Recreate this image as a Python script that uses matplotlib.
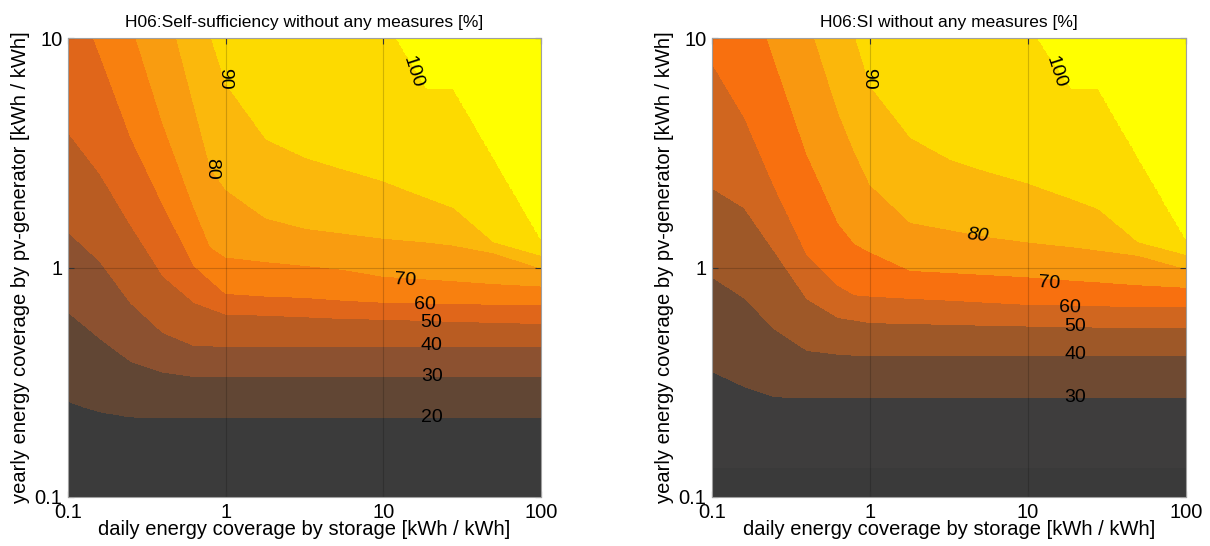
import numpy as np
import matplotlib
matplotlib.use("Agg")
import matplotlib.pyplot as plt
from matplotlib.ticker import FixedLocator, FixedFormatter, NullLocator

plt.rcParams['font.family'] = ['Liberation Sans', 'DejaVu Sans']

# ---------------- data ----------------
# storage axis columns (daily energy coverage by storage, kWh/kWh)
storage = [0.1, 0.16, 0.25, 0.4, 0.63, 0.8, 1, 1.8, 3.2, 5.6, 10, 19, 28, 50, 100]
levels = [20, 30, 40, 50, 60, 70, 80, 90, 100]

# pv-coverage (kWh/kWh) at which each contour level is reached, per storage column
# (values > 10 lie above the plotted range)
ss_level_20 = [0.26, 0.233, 0.222, 0.22, 0.22, 0.22, 0.22, 0.22, 0.22, 0.22, 0.22, 0.22, 0.22, 0.22, 0.22]
ss_level_30 = [0.64, 0.49, 0.39, 0.35, 0.335, 0.335, 0.335, 0.335, 0.335, 0.335, 0.335, 0.335, 0.335, 0.335, 0.335]
ss_level_40 = [1.43, 1.06, 0.70, 0.52, 0.457, 0.455, 0.454, 0.454, 0.454, 0.454, 0.454, 0.454, 0.454, 0.454, 0.454]
ss_level_50 = [3.88, 2.55, 1.53, 0.92, 0.705, 0.663, 0.627, 0.62, 0.61, 0.60, 0.595, 0.588, 0.582, 0.577, 0.57]
ss_level_60 = [19.3, 8.4, 3.69, 1.88, 1.02, 0.88, 0.77, 0.75, 0.74, 0.72, 0.705, 0.70, 0.70, 0.69, 0.69]
ss_level_70 = [85, 31.6, 11.8, 4.23, 1.82, 1.23, 1.11, 1.06, 1.02, 0.98, 0.915, 0.89, 0.875, 0.85, 0.83]
ss_level_80 = [210, 85, 40, 16.9, 5.09, 2.72, 2.19, 1.64, 1.48, 1.41, 1.34, 1.29, 1.25, 1.16, 0.995]
ss_level_90 = [1000, 360, 133, 48, 17.3, 10.3, 6.34, 3.63, 3.01, 2.68, 2.38, 2.01, 1.82, 1.29, 1.13]
ss_level_100 = [3000, 1500, 800, 400, 200, 150, 100, 60, 40, 25, 12.5, 6.03, 6.03, 3.04, 1.34]

si_level_20 = [0.134, 0.134, 0.134, 0.134, 0.134, 0.134, 0.134, 0.134, 0.134, 0.134, 0.134, 0.134, 0.134, 0.134, 0.134]
si_level_30 = [0.352, 0.303, 0.273, 0.272, 0.272, 0.272, 0.272, 0.272, 0.272, 0.272, 0.272, 0.272, 0.272, 0.272, 0.272]
si_level_40 = [0.91, 0.736, 0.538, 0.435, 0.419, 0.415, 0.413, 0.413, 0.413, 0.413, 0.413, 0.413, 0.413, 0.413, 0.413]
si_level_50 = [2.22, 1.82, 1.17, 0.73, 0.605, 0.59, 0.575, 0.57, 0.565, 0.56, 0.556, 0.553, 0.55, 0.548, 0.547]
si_level_60 = [7.76, 4.52, 2.22, 1.13, 0.834, 0.76, 0.75, 0.734, 0.72, 0.705, 0.69, 0.685, 0.68, 0.678, 0.675]
si_level_70 = [51, 20, 7.9, 3.1, 1.56, 1.27, 1.17, 0.97, 0.95, 0.93, 0.91, 0.88, 0.865, 0.84, 0.82]
si_level_80 = [300, 100, 35, 12.6, 4.75, 3.18, 2.30, 1.57, 1.46, 1.36, 1.29, 1.23, 1.19, 1.13, 0.99]
si_level_90 = [1000, 360, 133, 48, 17.3, 10.3, 6.2, 3.69, 2.96, 2.61, 2.33, 1.99, 1.80, 1.29, 1.14]
si_level_100 = [3000, 1500, 800, 400, 200, 150, 100, 60, 40, 25, 11.6, 6.03, 6.03, 3.04, 1.34]

# contour labels
ss_label_values = [20, 30, 40, 50, 60, 70, 80, 90, 100]
ss_label_x = [20.3, 20.3, 20.3, 20.2, 18.4, 13.7, 0.82, 0.98, 15.3]
ss_label_y = [0.222, 0.336, 0.457, 0.575, 0.69, 0.878, 2.68, 6.67, 7.13]
ss_label_rot = [0, 0, 0, 0, -1, -4, -90, -90, -72]

si_label_values = [30, 40, 50, 60, 70, 80, 90, 100]
si_label_x = [20.0, 20.0, 19.8, 18.4, 13.7, 4.8, 0.98, 15.0]
si_label_y = [0.272, 0.418, 0.553, 0.67, 0.85, 1.37, 6.67, 7.13]
si_label_rot = [0, 0, 0, -1, -4, -6, -90, -72]

titles = ["H06:Self-sufficiency without any measures [%]", "H06:SI without any measures [%]"]
xlabel = "daily energy coverage by storage [kWh / kWh]"
ylabel = "yearly energy coverage by pv-generator [kWh / kWh]"

ss_colors = ['#3b3b3b', '#614634', '#8c5130', '#b95c22', '#e0661a',
             '#f8800f', '#f99c10', '#fbb80c', '#fdda00', '#ffff00']
si_colors = ['#3a3a3a', '#3e3d3d', '#6f4a32', '#9e5828', '#d0661f',
             '#f8700f', '#f99810', '#fbb70b', '#fdda00', '#ffff00']


def build_field(table):
    lx = np.log10(storage)
    pos = np.log10(np.array(table, dtype=float))
    fx = np.linspace(-1, 2, 361)
    fy = np.linspace(-1, 1, 481)
    Z = np.empty((fy.size, fx.size))
    for j, x in enumerate(fx):
        p = [np.interp(x, lx, row) for row in pos]
        Z[:, j] = np.interp(fy, p, levels, left=10, right=110)
    return 10 ** fx, 10 ** fy, Z


fig = plt.figure(figsize=(12.1, 5.46), dpi=100)
ax_pos = [[68 / 1210, 49 / 546, 473 / 1210, 459 / 546],
          [712 / 1210, 49 / 546, 474 / 1210, 459 / 546]]

panels = [
    ([ss_level_20, ss_level_30, ss_level_40, ss_level_50, ss_level_60,
      ss_level_70, ss_level_80, ss_level_90, ss_level_100], ss_colors,
     ss_label_values, ss_label_x, ss_label_y, ss_label_rot),
    ([si_level_20, si_level_30, si_level_40, si_level_50, si_level_60,
      si_level_70, si_level_80, si_level_90, si_level_100], si_colors,
     si_label_values, si_label_x, si_label_y, si_label_rot),
]

for i, (table, cols, lv, lxs, lys, lrs) in enumerate(panels):
    ax = fig.add_axes(ax_pos[i])
    X, Y, Z = build_field(table)
    ax.contourf(X, Y, Z, levels=[0] + levels + [120], colors=cols)
    ax.set_xscale('log')
    ax.set_yscale('log')
    ax.set_xlim(0.1, 100)
    ax.set_ylim(0.1, 10)
    ax.xaxis.set_major_locator(FixedLocator([0.1, 1, 10, 100]))
    ax.xaxis.set_major_formatter(FixedFormatter(['0.1', '1', '10', '100']))
    ax.yaxis.set_major_locator(FixedLocator([0.1, 1, 10]))
    ax.yaxis.set_major_formatter(FixedFormatter(['0.1', '1', '10']))
    ax.xaxis.set_minor_locator(NullLocator())
    ax.yaxis.set_minor_locator(NullLocator())
    ax.tick_params(which='major', direction='in', top=True, right=True,
                   length=4, width=0.8, color='#333333', labelsize=14.5, pad=4)
    ax.grid(True, which='major', color='black', alpha=0.18, linewidth=0.8)
    for sp in ax.spines.values():
        sp.set_color('#a0a0a0')
        sp.set_linewidth(0.8)
    ax.set_title(titles[i], fontsize=12.5, pad=8)
    ax.set_xlabel(xlabel, fontsize=14.5)
    ax.set_ylabel(ylabel, fontsize=14.5)
    ax.xaxis.set_label_coords(0.5, -0.05)
    ax.yaxis.set_label_coords(-0.08, 0.5)
    for v, x, y, r in zip(lv, lxs, lys, lrs):
        style = 'italic' if (i == 1 and v == 80) else 'normal'
        ax.text(x, y, str(v), rotation=r, ha='center', va='center',
                rotation_mode='anchor', fontsize=14, style=style, color='black')

fig.savefig('out.png', dpi=100)
